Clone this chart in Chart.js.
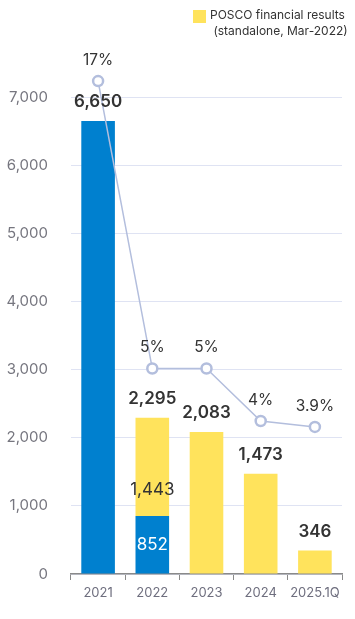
<!DOCTYPE html>
<html><head><meta charset="utf-8">
<script src="https://cdn.jsdelivr.net/npm/chart.js@4/dist/chart.umd.min.js"></script>
<style>
html,body{margin:0;padding:0;background:#fff;}
#wrap{position:relative;width:355px;height:619px;overflow:hidden;}
canvas{position:absolute;left:0;top:0;}
#lgsq{position:absolute;left:193px;top:10px;width:13px;height:13px;background:#FFE35C;}
#lgtx{position:absolute;left:210px;top:7px;font:12px Inter,sans-serif;color:#333;line-height:16px;white-space:nowrap;}
</style></head>
<body>
<div id="wrap">
<canvas id="c" width="355" height="619"></canvas>
<div id="lgsq"></div>
<div id="lgtx">POSCO financial results<br>&nbsp;(standalone, Mar-2022)</div>
</div>
<script>
const categories = ['2021', '2022', '2023', '2024', '2025.1Q'];
const blueValues = [6650, 852, null, null, null];
const yellowValues = [null, 1443, 2083, 1473, 346];
const rateValues = [17, 5, 5, 4, 3.9];
const yTicks = [0, 1000, 2000, 3000, 4000, 5000, 6000, 7000];

const FONT = 'Inter, sans-serif';
const fmt = v => v.toLocaleString('en-US');

const labelPlugin = {
  id: 'valueLabels',
  afterDatasetsDraw(chart) {
    const ctx = chart.ctx;
    const mB = chart.getDatasetMeta(0), mY = chart.getDatasetMeta(1), mL = chart.getDatasetMeta(2);
    ctx.save();
    ctx.textAlign = 'center';
    ctx.textBaseline = 'middle';
    categories.forEach((c, i) => {
      const b = blueValues[i], y = yellowValues[i];
      const total = (b || 0) + (y || 0);
      const topEl = y != null ? mY.data[i] : mB.data[i];
      ctx.font = '600 17px ' + FONT;
      ctx.fillStyle = '#333';
      ctx.fillText(fmt(total), topEl.x, topEl.y - 19);
      if (b != null && y != null) {
        ctx.font = '400 17px ' + FONT;
        ctx.fillStyle = '#333';
        ctx.fillText(fmt(y), mY.data[i].x, mY.data[i].base - 26);
        ctx.fillStyle = '#fff';
        const be = mB.data[i];
        ctx.fillText(fmt(b), be.x, (be.y + be.base) / 2);
      }
    });
    ctx.font = '400 15.5px ' + FONT;
    ctx.fillStyle = '#333';
    mL.data.forEach((p, i) => ctx.fillText(rateValues[i] + '%', p.x, p.y - 21));
    ctx.restore();
  }
};

new Chart(document.getElementById('c'), {
  type: 'bar',
  data: {
    labels: categories,
    datasets: [
      { label: 'POSCO', data: blueValues, backgroundColor: '#0080CF', stack: 's', order: 2,
        barPercentage: 0.62, categoryPercentage: 1 },
      { label: 'POSCO financial results (standalone, Mar-2022)', data: yellowValues, backgroundColor: '#FFE35C', stack: 's', order: 2,
        barPercentage: 0.62, categoryPercentage: 1 },
      { type: 'line', label: 'rate', data: rateValues, yAxisID: 'y1', order: 0, clip: false,
        borderColor: '#B3BEDD', borderWidth: 1.5, pointRadius: 5, pointHoverRadius: 5,
        pointBorderWidth: 2.5, pointBackgroundColor: '#fff', pointBorderColor: '#B3BEDD', tension: 0 }
    ]
  },
  options: {
    responsive: false,
    animation: false,
    layout: { padding: { top: 63, right: 13, left: 0, bottom: 0 } },
    plugins: { legend: { display: false }, tooltip: { enabled: false } },
    scales: {
      x: {
        stacked: true,
        grid: { display: true, drawOnChartArea: false, drawTicks: true, tickLength: 6, color: '#8a8a8a', offset: true },
        border: { color: '#8a8a8a', width: 1.5 },
        ticks: { color: '#6e6e7e', font: { size: 13, family: FONT }, padding: 5, maxRotation: 0, autoSkip: false },
        afterFit: s => { s.height = 45; }
      },
      y: {
        stacked: true,
        min: 0, max: 7500,
        afterBuildTicks: s => { s.ticks = yTicks.map(v => ({ value: v })); },
        grid: { color: '#DFE3F3', drawTicks: false },
        border: { display: false },
        ticks: { color: '#76767f', font: { size: 15, family: FONT }, padding: 23, callback: v => fmt(v) },
        afterFit: s => { s.width = 71; }
      },
      y1: {
        type: 'logarithmic',
        display: false,
        bounds: 'data',
        min: 2.085, max: 18.36
      }
    }
  },
  plugins: [labelPlugin]
});
</script>
</body></html>
